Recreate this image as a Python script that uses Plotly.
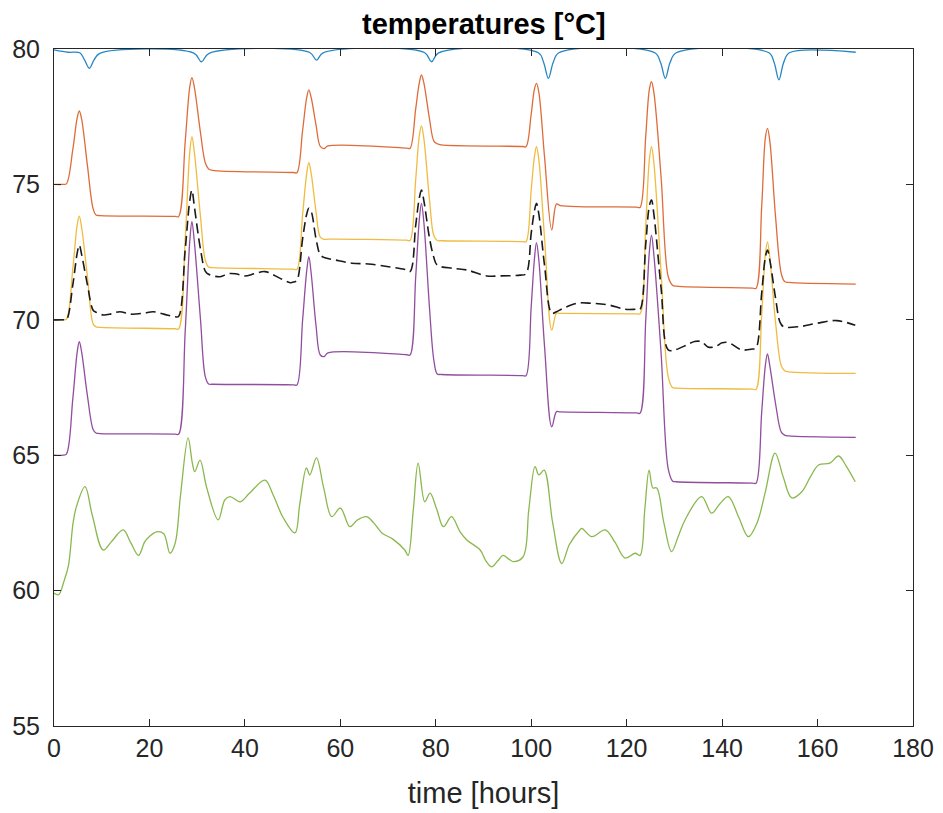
import plotly.graph_objects as go

# ---------------- data ----------------
# shared time grid for the orange / yellow / purple series [hours]
t_main = [0, 1.9, 2.6, 3.95, 4.85, 5.3, 5.8, 7.0, 8.2, 8.8, 9.6,
          25.4, 26.1, 27.5, 28.45, 28.9, 29.4, 30.7, 31.7, 32.4, 33.2,
          50.2, 50.9, 52.1, 52.95, 53.4, 53.9, 54.9, 55.8, 56.6, 57.4,
          73.9, 74.6, 75.8, 76.55, 77.0, 77.5, 78.7, 79.6, 80.3, 81.1,
          98.2, 98.9, 100.0, 100.65, 101.1, 101.6, 102.8, 104.3, 105.3, 106.1,
          122.1, 122.8, 124.0, 124.75, 125.2, 125.7, 127.2, 128.7, 129.6, 130.4,
          146.4, 147.1, 148.3, 149.05, 149.5, 150.0, 151.2, 152.4, 153.1, 153.9,
          168.0]

orange = [75.0, 75.0, 75.02, 76.3, 77.45, 77.71, 77.4, 75.7, 74.1, 73.87, 73.85,
          73.82, 73.81, 76.6, 78.6, 78.94, 78.6, 76.9, 75.8, 75.57, 75.52,
          75.44, 75.43, 77.0, 78.2, 78.49, 78.2, 77.2, 76.4, 76.32, 76.42,
          76.34, 76.33, 77.8, 78.75, 79.04, 78.75, 77.4, 76.6, 76.5, 76.46,
          76.4, 76.39, 77.6, 78.5, 78.73, 78.4, 76.0, 73.32, 74.28, 74.22,
          74.16, 74.15, 76.8, 78.5, 78.79, 78.4, 75.3, 71.6, 71.28, 71.24,
          71.17, 71.16, 74.2, 76.7, 77.07, 76.6, 73.8, 71.7, 71.41, 71.38,
          71.32]

yellow = [70.0, 70.0, 70.02, 71.9, 73.5, 73.83, 73.4, 71.6, 69.85, 69.74, 69.72,
          69.67, 69.66, 73.0, 76.2, 76.76, 76.2, 73.8, 72.2, 71.95, 71.93,
          71.87, 71.86, 73.9, 75.4, 75.8, 75.4, 74.0, 73.05, 72.97, 72.98,
          72.94, 72.93, 75.2, 76.8, 77.16, 76.7, 74.4, 73.1, 72.93, 72.92,
          72.89, 72.88, 74.8, 76.0, 76.39, 75.9, 73.0, 69.62, 70.24, 70.24,
          70.22, 70.22, 73.5, 75.9, 76.39, 75.8, 71.8, 67.9, 67.5, 67.48,
          67.44, 67.43, 70.2, 72.4, 72.88, 72.3, 69.9, 68.3, 68.12, 68.08,
          68.02]

purple = [65.0, 65.0, 65.04, 67.1, 68.8, 69.19, 68.8, 67.2, 65.95, 65.82, 65.8,
          65.78, 65.77, 69.6, 72.9, 73.62, 72.9, 70.0, 67.9, 67.63, 67.62,
          67.6, 67.59, 70.0, 71.8, 72.33, 71.7, 69.8, 68.7, 68.64, 68.78,
          68.71, 68.7, 71.6, 73.7, 74.3, 73.6, 70.4, 68.5, 68.0, 67.98,
          67.94, 67.93, 70.5, 72.2, 72.85, 72.2, 69.0, 66.05, 66.61, 66.6,
          66.56, 66.55, 70.0, 72.5, 73.13, 72.4, 68.8, 64.5, 64.05, 64.02,
          63.97, 63.96, 66.6, 68.3, 68.74, 68.3, 66.9, 65.85, 65.74, 65.71,
          65.66]

t_blue = [0, 3.0, 5.4, 6.4, 7.4, 8.4, 9.6,
          29.3, 30.9, 32.5,
          53.6, 55.0, 56.4,
          77.6, 79.1, 80.6,
          101.5, 102.6, 103.6, 104.6, 105.8,
          125.9, 127.1, 128.1, 129.1, 130.4,
          149.8, 150.9, 151.9, 152.9, 154.1,
          168.0]
blue = [79.97, 79.88, 79.86, 79.6, 79.29, 79.6, 79.84,
        79.85, 79.53, 79.84,
        79.87, 79.59, 79.86,
        79.87, 79.53, 79.86,
        79.86, 79.5, 78.92, 79.5, 79.86,
        79.86, 79.5, 78.92, 79.5, 79.86,
        79.86, 79.5, 78.86, 79.5, 79.86,
        79.88]

t_green = [0, 1, 2, 3, 4, 4.7, 6.5, 8, 10.3, 12, 14.5, 16, 17.7, 19, 20, 21.5,
           23, 24.3, 25.4, 26.5, 28.1, 29.0, 29.5, 30.6, 32, 34.4, 35.8, 36.9,
           39, 41, 44.2, 46, 48, 50.5, 51.5, 52.9, 53.6, 55.0, 56.5, 58.2, 60,
           62, 63.5, 65.5, 67, 68.7, 71, 73.5, 74.2, 75.3, 76.3, 77.7, 78.8,
           80.2, 81.6, 83.3, 85, 86.5, 89.3, 90.5, 91.7, 93, 94.1, 96.2, 98.3,
           99.5, 100.8, 101.6, 102.7, 104.5, 106.4, 108, 110.2, 110.6, 112.7,
           115.5, 117.5, 119.7, 121.8, 122.8, 123.8, 124.7, 125.5, 126.3,
           127.8, 129.4, 130.8, 132.2, 135.7, 137.8, 139.5, 141.3, 143.5,
           145.5, 147.3, 149.0, 151.1, 152.8, 154.6, 156.7, 158.5, 160.2,
           162.6, 164.4, 166, 167.9]
green = [59.9, 59.85, 60.3, 60.9, 62.5, 63.1, 63.84, 62.8, 61.5, 61.8, 62.24,
         61.8, 61.3, 61.8, 62.0, 62.17, 62.1, 61.38, 61.76, 63.5, 65.64, 64.7,
         64.39, 64.82, 63.8, 62.61, 63.35, 63.47, 63.28, 63.6, 64.08, 63.5,
         62.7, 62.13, 63.2, 64.53, 64.27, 64.9, 63.8, 62.73, 63.05, 62.36,
         62.6, 62.73, 62.5, 62.13, 61.9, 61.5, 61.3, 63.0, 64.71, 63.28, 63.6,
         63.0, 62.36, 62.73, 62.2, 61.87, 61.5, 61.1, 60.88, 61.1, 61.3, 61.07,
         61.25, 63.0, 64.58, 64.27, 64.45, 62.5, 61.0, 61.7, 62.24, 62.3,
         61.99, 62.24, 61.8, 61.2, 61.38, 61.3, 63.0, 64.45, 63.79, 63.79,
         62.5, 61.44, 62.0, 62.6, 63.47, 62.86, 63.2, 63.47, 62.7, 61.99,
         62.49, 63.6, 65.08, 64.2, 63.42, 63.65, 64.2, 64.64, 64.71, 64.97,
         64.6, 64.02]

t_dash = [0, 1.9, 2.6, 3.95, 4.85, 5.3, 5.8, 7.0, 8.2, 8.8, 10.3, 12, 13.8,
          15.9, 18.7, 20.8, 23.0, 25.4, 26.1,
          27.5, 28.45, 28.9, 29.4, 30.7, 31.7, 32.4, 34.8, 36.5, 38, 40.0, 42,
          44.2, 47.4, 49.5, 50.3, 50.9,
          52.1, 52.95, 53.4, 53.9, 54.9, 55.8, 56.6, 58.9, 62.4, 65.9, 70.1,
          73.5, 74.6,
          75.8, 76.55, 77.0, 77.5, 78.7, 79.6, 80.3, 83.7, 86.5, 90.7, 93.5,
          97.7, 98.9,
          100.0, 100.65, 101.1, 101.6, 102.8, 104.3, 105.3, 106.7, 109.5,
          112.7, 116.2, 119.7, 122.1, 122.8,
          124.0, 124.75, 125.2, 125.7, 127.2, 128.7, 130.1, 132.6, 134.2,
          135.7, 137.0, 138.5, 140, 141.3, 144.1, 146.4, 147.1,
          148.3, 149.05, 149.5, 150.0, 151.2, 152.1, 152.8, 156.3, 159.8,
          164.0, 167.9]
dashed = [69.99, 70.0, 70.0, 71.3, 72.45, 72.76, 72.4, 71.3, 70.35, 70.28,
          70.18, 70.22, 70.3, 70.21, 70.24, 70.3, 70.21, 70.11, 70.12,
          72.6, 74.4, 74.79, 74.2, 72.6, 71.8, 71.68, 71.59, 71.7, 71.7,
          71.62, 71.7, 71.78, 71.53, 71.37, 71.4, 71.45,
          73.0, 73.9, 74.12, 74.0, 73.0, 72.4, 72.3, 72.21, 72.09, 72.06,
          71.96, 71.86, 71.78,
          73.5, 74.5, 74.79, 74.4, 73.0, 72.3, 72.02, 71.9, 71.84, 71.62,
          71.62, 71.65, 71.7,
          73.2, 74.0, 74.3, 73.9, 72.0, 70.24, 70.3, 70.42, 70.61, 70.61,
          70.55, 70.39, 70.39, 70.39,
          72.8, 74.2, 74.42, 73.9, 71.2, 68.89, 68.89, 69.07, 69.2, 69.19,
          69.0, 69.0, 69.15, 69.16, 68.89, 68.92, 68.95,
          71.0, 72.3, 72.58, 72.2, 70.8, 69.93, 69.75, 69.75, 69.87, 69.97,
          69.8]

x_ticks = [0, 20, 40, 60, 80, 100, 120, 140, 160, 180]
y_ticks = [55, 60, 65, 70, 75, 80]

# ---------------- figure ----------------
FONT = "Liberation Sans, Arial, Helvetica, sans-serif"
AX = "#262626"

fig = go.Figure()
line_series = [
    (t_blue, blue, "#0072BD"),
    (t_main, orange, "#D95319"),
    (t_main, yellow, "#EDB120"),
    (t_main, purple, "#7E2F8E"),
    (t_green, green, "#77AC30"),
]
for xs, ys, col in line_series:
    fig.add_trace(go.Scatter(x=xs, y=ys, mode="lines",
                             line=dict(color=col, width=1.3, shape="spline",
                                       smoothing=1.0),
                             opacity=0.85,
                             showlegend=False, hoverinfo="skip"))
fig.add_trace(go.Scatter(x=t_dash, y=dashed, mode="lines",
                         line=dict(color="#1a1a1a", width=1.6, dash="10px,5px",
                                   shape="spline", smoothing=1.0),
                         showlegend=False, hoverinfo="skip"))

axis_common = dict(showgrid=False, zeroline=False, showline=True,
                   linecolor=AX, linewidth=1, ticks="inside", ticklen=7,
                   tickcolor=AX, tickwidth=1, mirror="ticks", automargin=False,
                   tickfont=dict(family=FONT, size=25, color=AX))

# the page body adds an 8px offset, so margins are set to land the plot
# area at x 54..913, y 49..726 of the window
fig.update_layout(
    width=943, height=813,
    margin=dict(l=46, r=38, t=41, b=95, autoexpand=False),
    paper_bgcolor="white", plot_bgcolor="white",
    xaxis=dict(range=[0, 180], tickvals=x_ticks, **axis_common,
               title=dict(text="time [hours]", standoff=21,
                          font=dict(family=FONT, size=29, color=AX))),
    yaxis=dict(range=[55, 80], tickvals=y_ticks, ticklabelstandoff=8,
               **axis_common),
    annotations=[dict(text="<b>temperatures [°C]</b>", xref="paper",
                      yref="paper", x=0.5, y=(677 + 25) / 677,
                      xanchor="center", yanchor="middle", showarrow=False,
                      font=dict(family=FONT, size=29, color="black"))],
)

fig.write_html("out.html")
